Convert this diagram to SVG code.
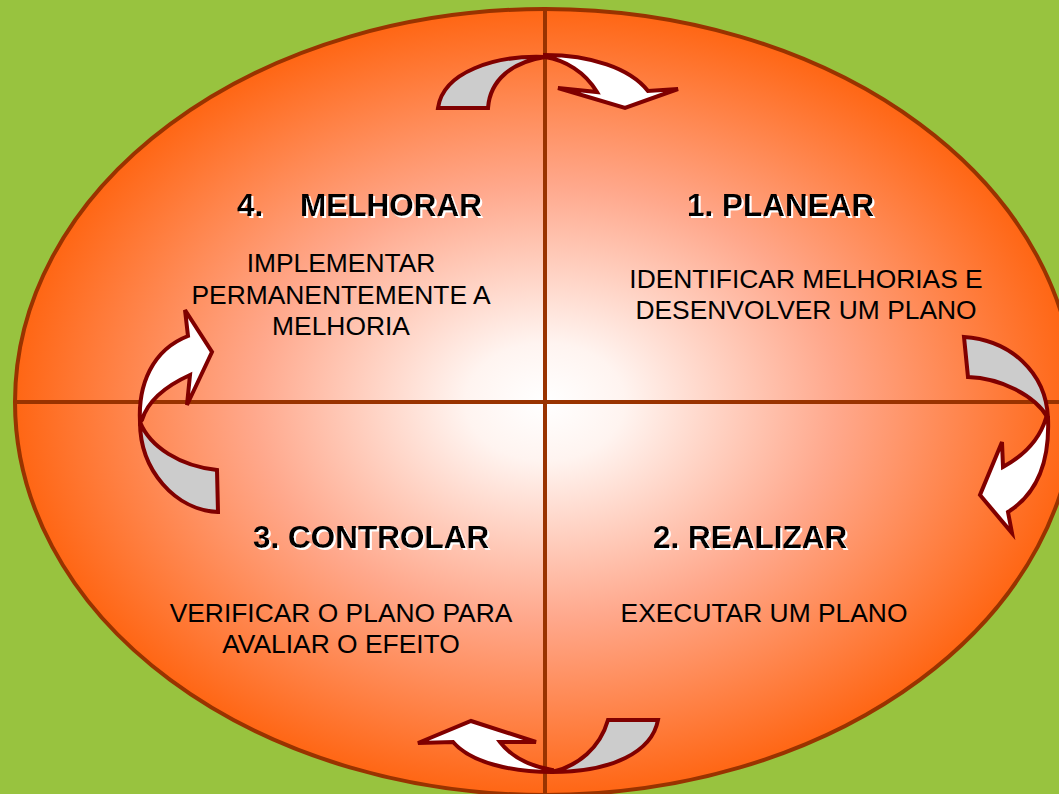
<svg xmlns="http://www.w3.org/2000/svg" width="1059" height="794" viewBox="0 0 1059 794">
<defs>
<radialGradient id="fillGrad" cx="0.5" cy="0.5" r="0.5">
<stop offset="0" stop-color="#FFFFFF"/>
<stop offset="0.15" stop-color="#FFF4F0"/>
<stop offset="0.55" stop-color="#FFA88C"/>
<stop offset="1" stop-color="#FF6614"/>
</radialGradient>
<filter id="sh" x="-5%" y="-20%" width="110%" height="140%">
<feOffset in="SourceAlpha" dx="1.5" dy="1.5" result="o"/>
<feFlood flood-color="#FFFFFF"/>
<feComposite in2="o" operator="in" result="w"/>
<feMerge><feMergeNode in="w"/><feMergeNode in="SourceGraphic"/></feMerge>
</filter>
</defs>
<style>
.title{font-family:"Liberation Sans",Arial,sans-serif;font-weight:bold;font-size:31.5px;fill:#000000;}
.body{font-family:"Liberation Sans",Arial,sans-serif;font-size:26.4px;fill:#000000;text-anchor:middle;}
.axis{stroke:#993300;stroke-width:4;fill:none;}
.grey{fill:#CCCCCC;stroke:#800000;stroke-width:4;stroke-linejoin:miter;}
.white{fill:#FFFFFF;stroke:#800000;stroke-width:4;stroke-linejoin:miter;}
</style>
<rect x="0" y="0" width="1059" height="794" fill="#98C33F"/>
<g id="cycle">
<ellipse cx="545" cy="402" rx="530" ry="393" fill="url(#fillGrad)" stroke="#993300" stroke-width="4"/>
</g>
<g id="connectors">
<line class="axis" x1="16" y1="402" x2="1075" y2="402"/>
<line class="axis" x1="545" y1="9" x2="545" y2="795"/>
<g id="arrow-top">
<path class="grey" d="M 438,108 L 488,108 C 490,80 512,62 545,57 C 495,55 443,72 438,108 Z"/>
<path class="white" d="M 545,55 C 590,55 630,68 648,91 L 678,89 L 625,108 L 558,88 L 597,92 C 585,72 565,60 545,57 Z"/>
</g>
<g id="arrow-right">
<path class="grey" d="M 964,337 C 1010,340 1046,372 1048,418 C 1035,395 1000,378 968,377 Z"/>
<path class="white" d="M 1048,418 C 1050,465 1035,495 1008,512 L 1012,533 L 980,495 L 1002,442 L 1003,467 C 1025,455 1040,438 1046,418 Z"/>
</g>
<g id="arrow-bottom">
<path class="grey" d="M 608,720 L 658,720 C 652,752 612,772 552,772 C 578,766 600,748 608,720 Z"/>
<path class="white" d="M 552,772 C 510,772 470,762 453,742 L 418,743 L 471,721 L 536,742 L 500,742 C 512,758 530,766 552,770 Z"/>
</g>
<g id="arrow-left">
<path class="grey" d="M 217,470 L 218,512 C 175,510 140,470 140,422 C 150,447 180,466 217,470 Z"/>
<path class="white" d="M 140,422 C 138,385 152,350 188,336 L 185,310 L 212,352 L 187,405 L 190,375 C 168,385 148,400 142,420 Z"/>
</g>
</g>
<g id="node-planear">
<text class="title" x="687" y="216" filter="url(#sh)">1. PLANEAR</text>
<text class="body" x="806" y="288">IDENTIFICAR MELHORIAS E</text>
<text class="body" x="806" y="319">DESENVOLVER UM PLANO</text>
</g>
<g id="node-realizar">
<text class="title" x="653" y="548" filter="url(#sh)">2. REALIZAR</text>
<text class="body" x="764" y="622">EXECUTAR UM PLANO</text>
</g>
<g id="node-controlar">
<text class="title" x="253" y="548" filter="url(#sh)">3. CONTROLAR</text>
<text class="body" x="341" y="622">VERIFICAR O PLANO PARA</text>
<text class="body" x="341" y="653">AVALIAR O EFEITO</text>
</g>
<g id="node-melhorar">
<text class="title" y="216" filter="url(#sh)"><tspan x="237">4.</tspan><tspan x="300">MELHORAR</tspan></text>
<text class="body" x="341" y="272">IMPLEMENTAR</text>
<text class="body" x="341" y="304">PERMANENTEMENTE A</text>
<text class="body" x="341" y="335">MELHORIA</text>
</g>
</svg>
